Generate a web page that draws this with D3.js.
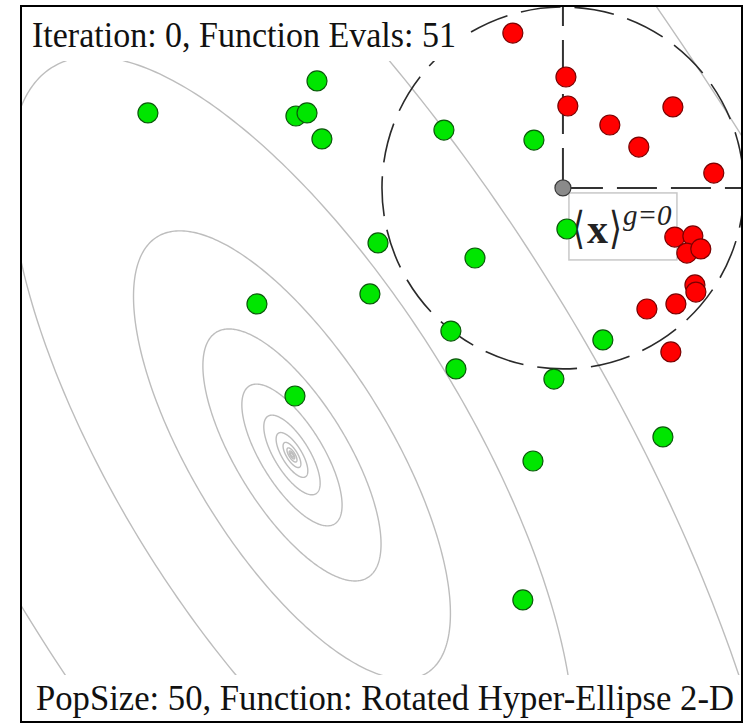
<!DOCTYPE html>
<html>
<head>
<meta charset="utf-8">
<script src="https://cdn.jsdelivr.net/npm/d3@7"></script>
<style>
  body { margin: 0; background: #fff; }
  text { font-family: "Liberation Serif", "Times New Roman", serif; }
</style>
</head>
<body>
<svg id="chart" width="749" height="725"></svg>
<script>
// Search space shown in the panel (optimum of the function at the origin)
const xDomain = [-1.71, 2.84];
const yDomain = [-1.685, 2.833];

// Function levels drawn as contours (half-decade steps)
const contourLevels = [1e-4, 3.16e-4, 1e-3, 3.16e-3, 0.01, 0.0316, 0.1, 0.316, 1, 3.16, 10, 31.6];

// Offspring of generation 0 that were not selected
const greenX = [-0.909, 0.158, 0.025, 0.095, 0.189, 0.959, 1.527, 0.543, 1.155, 1.735,
                -0.221, 0.492, 1.003, 1.035, 1.962, 1.653, 0.019, 2.341, 1.521, 1.457];
const greenY = [ 2.158, 2.360, 2.139, 2.158, 1.994, 2.050, 1.987, 1.338, 1.243, 1.426,
                 0.953, 1.016, 0.782, 0.543, 0.726, 0.479, 0.372, 0.114, -0.038, -0.915];

// Selected offspring
const redX = [1.394, 1.729, 1.741, 2.404, 2.006, 2.189, 2.662, 2.416, 2.530, 2.492,
              2.580, 2.543, 2.549, 2.423, 2.240, 2.391];
const redY = [2.662, 2.385, 2.202, 2.196, 2.082, 1.943, 1.779, 1.375, 1.382, 1.274,
              1.300, 1.073, 1.028, 0.953, 0.921, 0.650];

// Distribution mean and step size
const meanX = 1.710;
const meanY = 1.685;
const sigma = 1.142;

const titleText = "Iteration: 0, Function Evals: 51";
const footerText = "PopSize: 50, Function: Rotated Hyper-Ellipse 2-D";

const svg = d3.select("#chart");
const frameL = 21, frameR = 742, frameT = 6, frameB = 722;

const sx = d3.scaleLinear().domain(xDomain).range([frameL, frameR]);
const sy = d3.scaleLinear().domain(yDomain).range([frameB, frameT]);

svg.append("rect").attr("width", 749).attr("height", 725).attr("fill", "#fff");

svg.append("defs").append("clipPath").attr("id", "plotClip")
  .append("rect").attr("x", frameL).attr("y", frameT)
  .attr("width", frameR - frameL).attr("height", frameB - frameT);

const plot = svg.append("g").attr("clip-path", "url(#plotClip)");

// Rotated hyper-ellipse f(x, y) = x^2 + (x + y)^2 : level sets are ellipses
// x = r cos t, y = r (sin t - cos t) with r = sqrt(level)
const ts = d3.range(0, 2 * Math.PI, Math.PI / 180);
const ring = level => {
  const r = Math.sqrt(level);
  return ts.map(t => [r * Math.cos(t), r * (Math.sin(t) - Math.cos(t))]);
};
const line = d3.line().x(d => sx(d[0])).y(d => sy(d[1])).curve(d3.curveLinearClosed);

plot.append("g")
  .selectAll("path")
  .data(contourLevels)
  .join("path")
  .attr("d", d => line(ring(d)))
  .attr("fill", "none")
  .attr("stroke", "#bdbdbd")
  .attr("stroke-width", 1.4);

// Sampling distribution: circle of radius sigma and its principal axes
const mx = sx(meanX), my = sy(meanY);
const radiusPx = sx(meanX + sigma) - mx;
plot.append("circle")
  .attr("cx", mx).attr("cy", my).attr("r", radiusPx)
  .attr("fill", "none").attr("stroke", "#2a2a2a").attr("stroke-width", 1.6)
  .attr("stroke-dasharray", "40,14");

plot.append("line")
  .attr("x1", mx).attr("y1", my)
  .attr("x2", mx).attr("y2", sy(meanY + sigma))
  .attr("stroke", "#333").attr("stroke-width", 2).attr("stroke-dasharray", "40,14");
plot.append("line")
  .attr("x1", mx).attr("y1", my)
  .attr("x2", sx(meanX + sigma)).attr("y2", my)
  .attr("stroke", "#333").attr("stroke-width", 2).attr("stroke-dasharray", "40,14");

// Label box for the mean
plot.append("rect")
  .attr("x", mx + 6).attr("y", my + 5).attr("width", 108).attr("height", 67)
  .attr("fill", "#fff").attr("stroke", "#c8c8c8").attr("stroke-width", 1.5);

// <x>^(g=0) as one text with positioned pieces
const lab = plot.append("text").attr("fill", "#222");
lab.append("tspan").attr("x", mx + 9).attr("y", my + 55)
  .style("font-family", "'DejaVu Serif', 'DejaVu Sans', serif").attr("font-size", 44)
  .attr("textLength", 13).attr("lengthAdjust", "spacingAndGlyphs")
  .text("\u27E8");
lab.append("tspan").attr("x", mx + 24).attr("y", my + 55)
  .attr("font-size", 42).attr("font-weight", "bold").text("x");
lab.append("tspan").attr("x", mx + 46).attr("y", my + 55)
  .style("font-family", "'DejaVu Serif', 'DejaVu Sans', serif").attr("font-size", 44)
  .attr("textLength", 13).attr("lengthAdjust", "spacingAndGlyphs")
  .text("\u27E9");
lab.append("tspan").attr("x", mx + 60).attr("y", my + 37)
  .attr("font-size", 29).attr("font-style", "italic").text("g=0");

// Individuals
const greens = greenX.map((x, i) => [x, greenY[i]]);
const reds = redX.map((x, i) => [x, redY[i]]);

plot.append("g").selectAll("circle").data(greens).join("circle")
  .attr("cx", d => sx(d[0])).attr("cy", d => sy(d[1])).attr("r", 10)
  .attr("fill", "#00e600").attr("stroke", "#0a5a0a").attr("stroke-width", 1.2);

plot.append("g").selectAll("circle").data(reds).join("circle")
  .attr("cx", d => sx(d[0])).attr("cy", d => sy(d[1])).attr("r", 10)
  .attr("fill", "#ff0000").attr("stroke", "#7a0000").attr("stroke-width", 1.2);

plot.append("circle")
  .attr("cx", mx).attr("cy", my).attr("r", 8)
  .attr("fill", "#8a8a8a").attr("stroke", "#3a3a3a").attr("stroke-width", 1.2);

// Text panels
svg.append("rect").attr("x", frameL).attr("y", frameT).attr("width", 441).attr("height", 55).attr("fill", "#fff");
svg.append("rect").attr("x", frameL).attr("y", 675).attr("width", frameR - frameL).attr("height", frameB - 675).attr("fill", "#fff");

svg.append("text").attr("x", 32).attr("y", 47)
  .attr("font-size", 36).attr("fill", "#111")
  .attr("textLength", 424).attr("lengthAdjust", "spacingAndGlyphs")
  .text(titleText);

svg.append("text").attr("x", 36).attr("y", 710)
  .attr("font-size", 35).attr("fill", "#111")
  .attr("textLength", 698).attr("lengthAdjust", "spacingAndGlyphs")
  .text(footerText);

// Frame
svg.append("rect").attr("x", frameL).attr("y", frameT)
  .attr("width", frameR - frameL).attr("height", frameB - frameT)
  .attr("fill", "none").attr("stroke", "#000").attr("stroke-width", 2);
</script>
</body>
</html>
